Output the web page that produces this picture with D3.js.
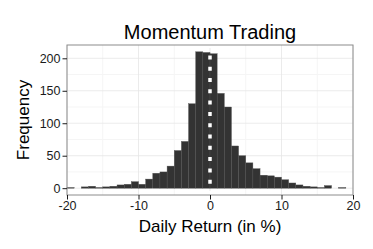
<!DOCTYPE html>
<html lang="en">
  <head>
    <meta charset="UTF-8" />
    <script src="https://d3js.org/d3.v7.min.js"></script>
    <style>
      body {
        margin: 0;
        background: #fff;
      }
      text {
        font-family: "Liberation Sans", Arial, sans-serif;
      }
    </style>
  </head>
  <body>
    <div id="chart"></div>
    <script>
      // histogram data (bin width 1, left edges)
      var binStarts = [
        -20, -19, -18, -17, -16, -15, -14, -13, -12, -11, -10, -9, -8, -7, -6,
        -5, -4, -3, -2, -1, 0, 1, 2, 3, 4, 5, 6, 7, 8, 9, 10, 11, 12, 13, 14,
        15, 16, 17, 18, 19,
      ];
      var counts = [
        1, 0, 2, 3, 1, 2, 3, 5, 6, 10, 6, 14, 23, 25, 34, 58, 72, 130, 210,
        209, 207, 146, 125, 65, 50, 39, 30, 20, 19, 17, 13, 8, 5, 3, 2, 1, 4,
        0, 1, 0,
      ];
      var xTicks = [-20, -10, 0, 10, 20];
      var xMinor = [-15, -5, 5, 15];
      var yTicks = [0, 50, 100, 150, 200];
      var yMinor = [25, 75, 125, 175];
      var vlineAt = 0;

      var width = 373;
      var height = 249;
      var panel = { left: 67, right: 353, top: 45, bottom: 195 };

      var svg = d3
        .select("#chart")
        .append("svg")
        .attr("width", width)
        .attr("height", height);

      var x = d3
        .scaleLinear()
        .domain([-20, 20])
        .range([panel.left, panel.right]);
      var yMax = d3.max(counts);
      var y = d3
        .scaleLinear()
        .domain([-yMax * 0.05, yMax * 1.05])
        .range([panel.bottom, panel.top]);

      // panel background
      svg
        .append("rect")
        .attr("x", panel.left)
        .attr("y", panel.top)
        .attr("width", panel.right - panel.left)
        .attr("height", panel.bottom - panel.top)
        .attr("fill", "#fff");

      // minor grid
      var grid = svg.append("g");
      grid
        .selectAll("line.vminor")
        .data(xMinor)
        .enter()
        .append("line")
        .attr("x1", (d) => x(d))
        .attr("x2", (d) => x(d))
        .attr("y1", panel.top)
        .attr("y2", panel.bottom)
        .attr("stroke", "#f5f5f5")
        .attr("stroke-width", 1);
      grid
        .selectAll("line.hminor")
        .data(yMinor)
        .enter()
        .append("line")
        .attr("x1", panel.left)
        .attr("x2", panel.right)
        .attr("y1", (d) => y(d))
        .attr("y2", (d) => y(d))
        .attr("stroke", "#f5f5f5")
        .attr("stroke-width", 1);
      // major grid
      grid
        .selectAll("line.vmajor")
        .data(xTicks)
        .enter()
        .append("line")
        .attr("x1", (d) => x(d))
        .attr("x2", (d) => x(d))
        .attr("y1", panel.top)
        .attr("y2", panel.bottom)
        .attr("stroke", "#e6e6e6")
        .attr("stroke-width", 0.8);
      grid
        .selectAll("line.hmajor")
        .data(yTicks)
        .enter()
        .append("line")
        .attr("x1", panel.left)
        .attr("x2", panel.right)
        .attr("y1", (d) => y(d))
        .attr("y2", (d) => y(d))
        .attr("stroke", "#e6e6e6")
        .attr("stroke-width", 0.8);

      // bars
      svg
        .append("g")
        .selectAll("rect")
        .data(binStarts)
        .enter()
        .append("rect")
        .attr("x", (d) => x(d))
        .attr("y", (d, i) => y(counts[i]))
        .attr("width", (d) => x(d + 1) - x(d))
        .attr("height", (d, i) => y(0) - y(counts[i]))
        .attr("fill", "#333333")
        .attr("stroke", "#505050")
        .attr("stroke-width", 0.4);

      // dashed white line at zero
      svg
        .append("line")
        .attr("x1", x(vlineAt))
        .attr("x2", x(vlineAt))
        .attr("y1", panel.bottom)
        .attr("y2", panel.top)
        .attr("stroke", "#fff")
        .attr("stroke-width", 3.5)
        .attr("stroke-dasharray", "4,7.3");

      // panel border
      svg
        .append("rect")
        .attr("x", panel.left)
        .attr("y", panel.top)
        .attr("width", panel.right - panel.left)
        .attr("height", panel.bottom - panel.top)
        .attr("fill", "none")
        .attr("stroke", "#8c8c8c")
        .attr("stroke-width", 1);

      // axes (plain hyphen for negatives, like the original)
      var fmt = function (d) {
        return String(d);
      };
      var xAxis = svg
        .append("g")
        .attr("transform", "translate(0," + panel.bottom + ")")
        .call(
          d3
            .axisBottom(x)
            .tickValues(xTicks)
            .tickSize(4.5)
            .tickPadding(2)
            .tickFormat(fmt)
        );
      var yAxis = svg
        .append("g")
        .attr("transform", "translate(" + panel.left + ",0)")
        .call(
          d3
            .axisLeft(y)
            .tickValues(yTicks)
            .tickSize(4.5)
            .tickPadding(2)
            .tickFormat(fmt)
        );
      [xAxis, yAxis].forEach(function (g) {
        g.select(".domain").remove();
        g.selectAll(".tick line").attr("stroke", "#1a1a1a").attr("stroke-width", 1);
        g.selectAll(".tick text")
          .attr("fill", "#1a1a1a")
          .style("font-size", "12.5px")
          .style("font-family", "'Liberation Sans', Arial, sans-serif");
      });

      // title
      svg
        .append("text")
        .attr("x", (panel.left + panel.right) / 2)
        .attr("y", 39)
        .attr("text-anchor", "middle")
        .style("font-size", "20px")
        .attr("fill", "#000")
        .text("Momentum Trading");

      // x axis title
      svg
        .append("text")
        .attr("x", (panel.left + panel.right) / 2)
        .attr("y", 232)
        .attr("text-anchor", "middle")
        .style("font-size", "17px")
        .attr("fill", "#000")
        .text("Daily Return (in %)");

      // y axis title
      svg
        .append("text")
        .attr(
          "transform",
          "translate(29," + (panel.top + panel.bottom) / 2 + ") rotate(-90)"
        )
        .attr("text-anchor", "middle")
        .style("font-size", "17px")
        .attr("fill", "#000")
        .text("Frequency");
    </script>
  </body>
</html>
